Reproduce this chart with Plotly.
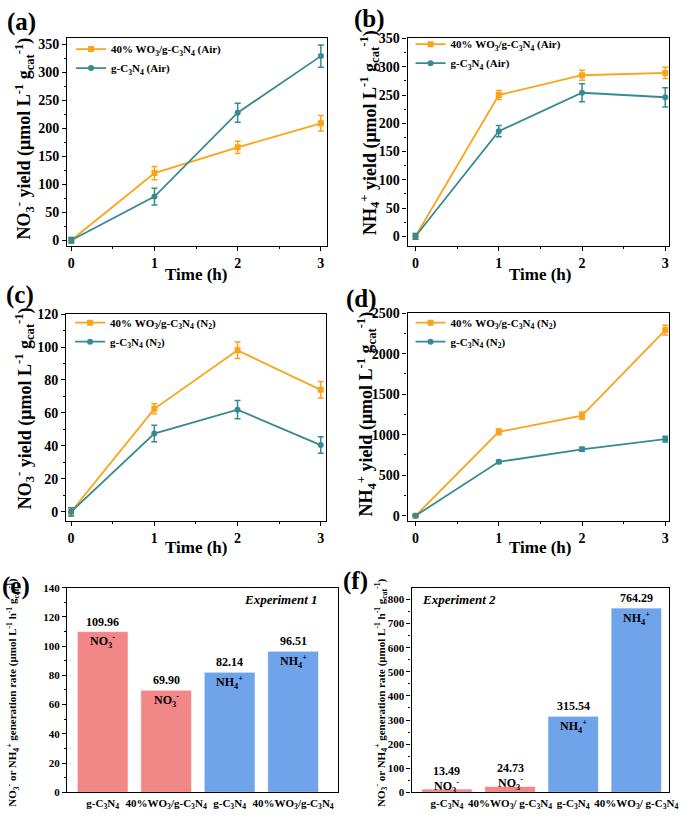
import plotly.graph_objects as go

# ---------------- data ----------------
time_h = [0, 1, 2, 3]

a_wo3 = [0, 120, 166, 209]
a_wo3_err = [5, 12, 11, 14]
a_cn = [0, 78, 228, 329]
a_cn_err = [5, 15, 17, 20]

b_wo3 = [0, 250, 285, 289]
b_wo3_err = [5, 8, 9, 10]
b_cn = [0, 186, 254, 246]
b_cn_err = [5, 10, 16, 17]

c_wo3 = [0, 62.5, 98, 74]
c_wo3_err = [2.5, 3, 5, 5]
c_cn = [0, 47.5, 62, 40.5]
c_cn_err = [2.5, 5, 5.5, 5]

d_wo3 = [0, 1035, 1235, 2290]
d_wo3_err = [15, 35, 45, 60]
d_cn = [0, 665, 820, 945]
d_cn_err = [10, 20, 25, 35]

CN = "g-C<sub>3</sub>N<sub>4</sub>"
e_categories = [CN, "40%WO<sub>3</sub>/g-C<sub>3</sub>N<sub>4</sub>", CN,
                "40%WO<sub>3</sub>/g-C<sub>3</sub>N<sub>4</sub>"]
e_values = [109.96, 69.90, 82.14, 96.51]
f_categories = [CN, "40%WO<sub>3</sub>/ g-C<sub>3</sub>N<sub>4</sub>", CN,
                "40%WO<sub>3</sub>/ g-C<sub>3</sub>N<sub>4</sub>"]
f_values = [13.49, 24.73, 315.54, 764.29]
NO3 = "NO<sub>3</sub><sup>-</sup>"
NH4 = "NH<sub>4</sub><sup>+</sup>"
bar_ions = [NO3, NO3, NH4, NH4]

ORANGE = "#FBA31A"
TEAL = "#378A92"
RED = "#F28787"
BLUE = "#6FA3EA"

FONT = "Liberation Serif"
W, H = 691, 820


def px_x(p):
    return p / W


def px_y(p):
    return 1 - p / H


fig = go.Figure()

line_panels = [
    (1, a_wo3, a_wo3_err, a_cn, a_cn_err, "(Air)", "legend"),
    (2, b_wo3, b_wo3_err, b_cn, b_cn_err, "(Air)", "legend2"),
    (3, c_wo3, c_wo3_err, c_cn, c_cn_err, "(N<sub>2</sub>)", "legend3"),
    (4, d_wo3, d_wo3_err, d_cn, d_cn_err, "(N<sub>2</sub>)", "legend4"),
]

for idx, wo3, wo3e, cn, cne, gas, lg in line_panels:
    sfx = "" if idx == 1 else str(idx)
    fig.add_trace(go.Scatter(
        x=time_h, y=wo3, mode="lines+markers",
        name="40% WO<sub>3</sub>/g-C<sub>3</sub>N<sub>4</sub> " + gas,
        line=dict(color=ORANGE, width=1.8),
        marker=dict(symbol="square", size=6, color=ORANGE),
        error_y=dict(type="data", array=wo3e, color=ORANGE, thickness=1.5, width=3),
        xaxis="x" + sfx, yaxis="y" + sfx, legend=lg))
    fig.add_trace(go.Scatter(
        x=time_h, y=cn, mode="lines+markers",
        name="g-C<sub>3</sub>N<sub>4</sub> " + gas,
        line=dict(color=TEAL, width=1.8),
        marker=dict(symbol="circle", size=6, color=TEAL),
        error_y=dict(type="data", array=cne, color=TEAL, thickness=1.5, width=3),
        xaxis="x" + sfx, yaxis="y" + sfx, legend=lg))

bar_x = [0, 1, 2, 3]
bar_colors = [RED, RED, BLUE, BLUE]
fig.add_trace(go.Bar(x=bar_x, y=e_values, marker=dict(color=bar_colors, line=dict(color="rgba(255,255,255,0.6)", width=1)),
                     width=0.8, showlegend=False, xaxis="x5", yaxis="y5"))
fig.add_trace(go.Bar(x=bar_x, y=f_values, marker=dict(color=bar_colors, line=dict(color="rgba(255,255,255,0.6)", width=1)),
                     width=0.8, showlegend=False, xaxis="x6", yaxis="y6"))

# ---------------- axes ----------------
def axis(domain, rng, dtick, minor_dtick, anchor, size=14, **kw):
    d = dict(domain=domain, range=rng, anchor=anchor, showline=True, linecolor="black",
             linewidth=1.3, mirror=True, ticks="outside", ticklen=4, tickwidth=1.2,
             tickcolor="black", showgrid=False, zeroline=False,
             tickfont=dict(family=FONT, size=size, color="black", weight="bold"))
    if dtick is not None:
        d.update(dtick=dtick, tick0=0)
    if minor_dtick is not None:
        d["minor"] = dict(ticks="outside", ticklen=2, tickcolor="black", dtick=minor_dtick, tick0=0)
    d.update(kw)
    return d


xa_left = [px_x(68), px_x(331)]
xa_right = [px_x(413), px_x(678)]
ya_top = [px_y(243), px_y(32)]
ya_mid = [px_y(522), px_y(312)]
ya_bot = [px_y(798), px_y(590)]

layout = dict(
    width=W, height=H, margin=dict(l=0, r=0, t=0, b=0),
    paper_bgcolor="white", plot_bgcolor="white",
    font=dict(family=FONT, color="black"),
    bargap=0.2,
    xaxis=axis(xa_left, [-0.05, 3.07], 1, 0.5, "y"),
    yaxis=axis(ya_top, [-10.5, 360.5], 50, 25, "x"),
    xaxis2=axis(xa_right, [-0.095, 3.047], 1, 0.5, "y2"),
    yaxis2=axis(ya_top, [-17.4, 350], 50, 25, "x2"),
    xaxis3=axis([px_x(67), px_x(330)], [-0.06, 3.06], 1, 0.5, "y3"),
    yaxis3=axis(ya_mid, [-5.4, 120], 20, 10, "x3"),
    xaxis4=axis(xa_right, [-0.095, 3.047], 1, 0.5, "y4"),
    yaxis4=axis([px_y(522), px_y(311)], [-61, 2500], 500, 250, "x4"),
    xaxis5=axis([px_x(68), px_x(342)], [-0.56, 3.70], None, None, "y5", size=11,
                tickvals=bar_x, ticktext=e_categories, ticks=""),
    yaxis5=axis(ya_bot, [0, 140], 20, 10, "x5", size=11),
    xaxis6=axis([px_x(417), px_x(678)], [-0.56, 3.52], None, None, "y6", size=11,
                tickvals=bar_x, ticktext=f_categories, ticks=""),
    yaxis6=axis(ya_bot, [0, 849], 100, 50, "x6", size=11),
)

leg_common = dict(xanchor="left", yanchor="top", bgcolor="rgba(0,0,0,0)",
                  font=dict(family=FONT, size=11, color="black", weight="bold"),
                  tracegroupgap=0, itemwidth=30)
layout["legend"] = dict(x=px_x(72), y=px_y(28), **leg_common)
layout["legend2"] = dict(x=px_x(416), y=px_y(23), **leg_common)
layout["legend3"] = dict(x=px_x(71), y=px_y(306), **leg_common)
layout["legend4"] = dict(x=px_x(416), y=px_y(306), **leg_common)
fig.update_layout(**layout)

# ---------------- text annotations ----------------
ann = []


def add_text(text, x, y, size, angle=0, italic=False):
    ann.append(dict(text=text, x=px_x(x), y=px_y(y), xref="paper", yref="paper",
                    showarrow=False, textangle=angle, xanchor="center", yanchor="middle",
                    font=dict(family=FONT, size=size, color="black", weight="bold",
                              style="italic" if italic else "normal")))


for lab, x, y in [("(a)", 22, 15), ("(b)", 374, 12), ("(c)", 20, 293),
                  ("(d)", 366, 297), ("(e)", 16, 588), ("(f)", 360, 583)]:
    add_text(lab, x, y, 25)

for x, y in [(199, 272), (548, 272), (199, 549), (548, 549)]:
    add_text("Time (h)", x, y, 17)

L1 = " (μmol L<sup>-1</sup> g<sub>cat</sub><sup>-1</sup>)"
add_text(NO3 + " yield" + L1, 25, 134, 18, angle=-90)
add_text(NH4 + " yield" + L1, 375, 128, 18, angle=-90)
add_text(NO3 + " yield" + L1, 25, 408, 18, angle=-90)
add_text(NH4 + " yield" + L1, 371, 414, 18, angle=-90)
L2 = (NO3 + " or " + NH4 + " generation rate (μmol L<sup>-1</sup> h<sup>-1</sup> "
      "g<sub>cat</sub><sup>-1</sup>)")
add_text(L2, 13, 697, 11, angle=-90)
add_text(L2, 386, 697, 11, angle=-90)

add_text("Experiment 1", 285, 602, 13, italic=True)
add_text("Experiment 2", 465, 602, 13, italic=True)

# bar value and ion labels (anchored to data)
for axn, vals, rng in [("5", e_values, 140), ("6", f_values, 849)]:
    plot_h = 208
    for i, v in enumerate(vals):
        bar_px = v / rng * plot_h
        small = bar_px < 20
        ann.append(dict(text=f"{v:.2f}", x=i, y=v, xref="x" + axn, yref="y" + axn,
                        showarrow=False, yshift=18 if small else 10, yanchor="middle",
                        font=dict(family=FONT, size=12, color="black", weight="bold")))
        ann.append(dict(text=bar_ions[i], x=i, y=v, xref="x" + axn, yref="y" + axn,
                        showarrow=False, yshift=3 if small else -10, yanchor="middle",
                        font=dict(family=FONT, size=12, color="black", weight="bold")))

fig.update_layout(annotations=ann)
fig.write_html("out.html")
